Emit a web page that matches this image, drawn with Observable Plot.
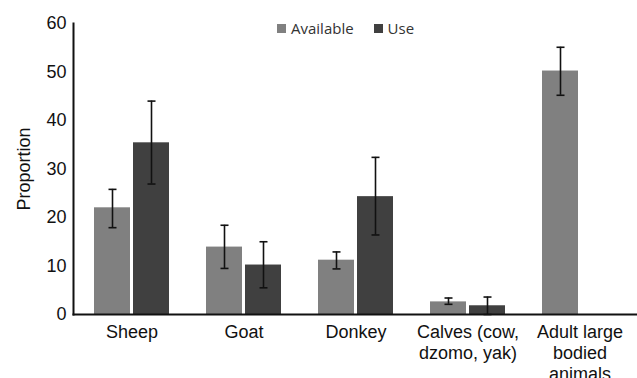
<!DOCTYPE html>
<html>
<head>
<meta charset="utf-8">
<script src="https://cdn.jsdelivr.net/npm/d3@7"></script>
<script src="https://cdn.jsdelivr.net/npm/@observablehq/plot@0.6"></script>
<style>
  html, body { margin: 0; padding: 0; background: #fff; }
  #wrap { position: relative; width: 637px; height: 378px; overflow: hidden; }
  #legend { position: absolute; left: 277px; top: 18px; display: flex; align-items: center;
            font-family: "Open Sans", sans-serif; font-size: 15px; color: #333; }
  #legend .item { display: flex; align-items: center; margin-right: 20px; }
  #legend .sw { width: 9px; height: 9px; margin-right: 5px; }
</style>
</head>
<body>
<div id="wrap"><div id="legend"></div></div>
<script>
const categories = ["Sheep", "Goat", "Donkey", "Calves (cow, dzomo, yak)", "Adult large bodied animals"];
const tickLabels = ["Sheep", "Goat", "Donkey", "Calves (cow,\ndzomo, yak)", "Adult large\nbodied\nanimals"];
const series = ["Available", "Use"];
const colors = ["#808080", "#404040"];

const available     = [22.0, 13.9, 11.2, 2.6, 50.2];
const availableLow  = [17.9, 9.5, 9.4, 2.1, 45.2];
const availableHigh = [25.8, 18.4, 12.9, 3.4, 55.1];

const use     = [35.4, 10.2, 24.3, 1.8, null];
const useLow  = [26.9, 5.5, 16.4, 0, null];
const useHigh = [44.0, 15.0, 32.4, 3.6, null];

const yTicks = [0, 10, 20, 30, 40, 50, 60];

const availRows = categories.map((c, i) => ({category: c, value: available[i], low: availableLow[i], high: availableHigh[i]}));
const useRows = categories.map((c, i) => ({category: c, value: use[i], low: useLow[i], high: useHigh[i]})).filter(d => d.value != null);

const cap = {draw(ctx, size) { const w = Math.sqrt(size / Math.PI); ctx.moveTo(-w, 0); ctx.lineTo(w, 0); }};
const errStyle = {stroke: "#111", strokeWidth: 1.6};

const plot = Plot.plot({
  width: 637,
  height: 378,
  marginLeft: 73,
  marginRight: 0,
  marginTop: 23,
  marginBottom: 64,
  style: {fontFamily: "'Liberation Sans', Arial, sans-serif", fontSize: "18px", color: "#111", background: "transparent"},
  x: {domain: categories, paddingInner: 0.333, paddingOuter: 0.175, align: 0.5},
  y: {domain: [0, 60]},
  marks: [
    Plot.barY(availRows, {x: "category", y: "value", fill: colors[0], insetRight: 39}),
    Plot.barY(useRows, {x: "category", y: "value", fill: colors[1], insetLeft: 39}),
    Plot.ruleX(availRows, {x: "category", y1: "low", y2: "high", dx: -19.5, ...errStyle}),
    Plot.ruleX(useRows, {x: "category", y1: "low", y2: "high", dx: 19.5, ...errStyle}),
    Plot.dot(availRows, {x: "category", y: "high", dx: -19.5, symbol: cap, r: 4, fill: "none", ...errStyle}),
    Plot.dot(availRows, {x: "category", y: "low", dx: -19.5, symbol: cap, r: 4, fill: "none", ...errStyle}),
    Plot.dot(useRows, {x: "category", y: "high", dx: 19.5, symbol: cap, r: 4, fill: "none", ...errStyle}),
    Plot.dot(useRows, {x: "category", y: "low", dx: 19.5, symbol: cap, r: 4, fill: "none", ...errStyle}),
    Plot.frame({anchor: "left", stroke: "#111", strokeWidth: 2}),
    Plot.frame({anchor: "bottom", stroke: "#111", strokeWidth: 2}),
    Plot.axisX({tickSize: 0, tickPadding: 9, label: null, lineHeight: 1.15,
                tickFormat: d => tickLabels[categories.indexOf(d)]}),
    Plot.axisY({ticks: yTicks, tickSize: 0, tickPadding: 7, label: "Proportion",
                labelAnchor: "center", labelOffset: 56, labelArrow: "none"})
  ]
});
plot.style.position = "absolute";
plot.style.left = "0";
plot.style.top = "0";
const wrap = document.getElementById("wrap");
wrap.insertBefore(plot, wrap.firstChild);

const legend = document.getElementById("legend");
series.forEach((s, i) => {
  const item = document.createElement("div");
  item.className = "item";
  const sw = document.createElement("span");
  sw.className = "sw";
  sw.style.background = colors[i];
  const t = document.createElement("span");
  t.textContent = s;
  item.appendChild(sw);
  item.appendChild(t);
  legend.appendChild(item);
});
</script>
</body>
</html>
